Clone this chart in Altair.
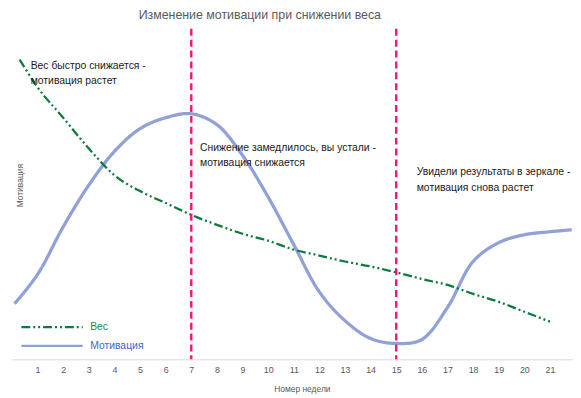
import altair as alt
import pandas as pd

# ---- data ----
weeks_motivation = [0.1, 1, 2, 3, 4, 5, 6, 7, 8, 9, 10, 11, 12, 13, 14, 15, 16, 17, 18, 19, 20, 21, 21.85]
motivation = [16.8, 25.7, 40.1, 52.7, 62.9, 69.8, 73.1, 74.3, 71.0, 61.7, 49.1, 34.7, 20.4, 11.7, 6.3,
              4.8, 6.0, 15.7, 29.6, 35.3, 37.7, 38.6, 39.2]

weeks_weight = [0.3, 1, 2, 3, 4, 5, 6, 7, 8, 9, 10, 11, 12, 13, 14, 15, 16, 17, 18, 19, 20, 21]
weight = [90.7, 82.3, 73.1, 63.8, 55.7, 50.9, 47.3, 43.7, 40.7, 38.0, 35.9, 33.2, 31.4, 29.6, 28.1,
          26.3, 24.3, 22.5, 19.8, 17.4, 14.4, 11.4]

series_names = ["Вес", "Мотивация"]
week_ticks = list(range(1, 22))
marker_weeks = [7, 15]

annotation_lines = ["Вес быстро снижается -", "мотивация растет",
                    "Снижение замедлилось, вы устали -", "мотивация снижается",
                    "Увидели результаты в зеркале -", "мотивация снова растет"]
annotation_week = [0.73, 0.73, 7.34, 7.34, 15.8, 15.8]
annotation_value = [88.6, 84.1, 63.8, 59.3, 56.6, 51.8]

title_text = "Изменение мотивации при снижении веса"
x_title = "Номер недели"
y_title = "Мотивация"

# ---- tables ----
lines_df = pd.concat([
    pd.DataFrame({"week": weeks_weight, "value": weight, "series": series_names[0]}),
    pd.DataFrame({"week": weeks_motivation, "value": motivation, "series": series_names[1]}),
])
rules_df = pd.DataFrame({"week": marker_weeks})
ann_df = pd.DataFrame({"text": annotation_lines, "week": annotation_week, "value": annotation_value})

FONT = "Liberation Sans"
GREEN = "#0E7A3E"
BLUE = "#8FA1D7"
PINK = "#F5127A"

x_scale = alt.Scale(domain=[0, 21.9], nice=False, zero=False)
y_scale = alt.Scale(domain=[0, 100], nice=False)

x_axis = alt.Axis(values=week_ticks, format="d", title=x_title, grid=False,
                  ticks=False, domain=True, domainColor="#d9d9d9", labelOverlap=False,
                  labelFontSize=9, labelColor="#595959", labelPadding=6, labelFont=FONT,
                  titleFontSize=8.5, titleColor="#595959", titleFontWeight="normal",
                  titleFont=FONT, titleX=293, titleY=30, titleBaseline="middle")
y_axis = alt.Axis(labels=False, ticks=False, domain=False, grid=False, title=y_title,
                  titleFontSize=8.5, titleColor="#595959", titleFontWeight="normal",
                  titleFont=FONT, titleX=8, titleY=158, titleAngle=-90,
                  titleAlign="center", titleBaseline="middle")
x_enc = alt.X("week:Q", scale=x_scale, axis=x_axis)
y_enc = alt.Y("value:Q", scale=y_scale, axis=y_axis)

color_enc = alt.Color("series:N", scale=alt.Scale(domain=series_names, range=[GREEN, BLUE]),
                      legend=alt.Legend(title=None, orient="none", legendX=34, legendY=295,
                                        symbolType="M-6.2,0H6.2", symbolSize=100, symbolStrokeWidth=2.2,
                                        labelFontSize=10.5, labelFont=FONT, labelOffset=32,
                                        rowPadding=7, padding=0,
                                        labelColor={"expr": "datum.value === 'Вес' ? '#1E8A4C' : '#3F63D6'"}))
dash_enc = alt.StrokeDash("series:N",
                          scale=alt.Scale(domain=series_names, range=[[9, 3, 2, 3, 2, 3], [1, 0]]),
                          legend=alt.Legend(title=None, orient="none", legendX=34, legendY=295))

base = alt.Chart(lines_df).encode(x=x_enc, y=y_enc, color=color_enc, strokeDash=dash_enc)

weight_line = base.transform_filter(alt.datum.series == series_names[0]).mark_line(
    interpolate="monotone", strokeWidth=2.3)
motivation_line = base.transform_filter(alt.datum.series == series_names[1]).mark_line(
    interpolate="catmull-rom", strokeWidth=3.3)

rules = alt.Chart(rules_df).mark_rule(color=PINK, strokeWidth=2.4, strokeDash=[7, 4]).encode(
    x=x_enc,
)

texts = alt.Chart(ann_df).mark_text(align="left", baseline="middle", font=FONT, fontSize=10.5,
                                    color="#1a1a1a").encode(
    x=x_enc, y=y_enc, text="text:N"
)

chart = alt.layer(motivation_line, weight_line, rules, texts).properties(
    width=567, height=334,
    background="white",
    title=alt.TitleParams(title_text, fontSize=12.5, color="#595959", font=FONT,
                          fontWeight="normal", anchor="middle", dx=-33, offset=6),
    autosize=alt.AutoSizeParams(type="none"),
    padding={"left": 4, "top": 19, "right": 0, "bottom": 33},
).configure_view(stroke=None).configure_axisX(labelOverlap=False, labelSeparation=0)

chart.save("out.html", embed_options={"renderer": "svg", "actions": False})
